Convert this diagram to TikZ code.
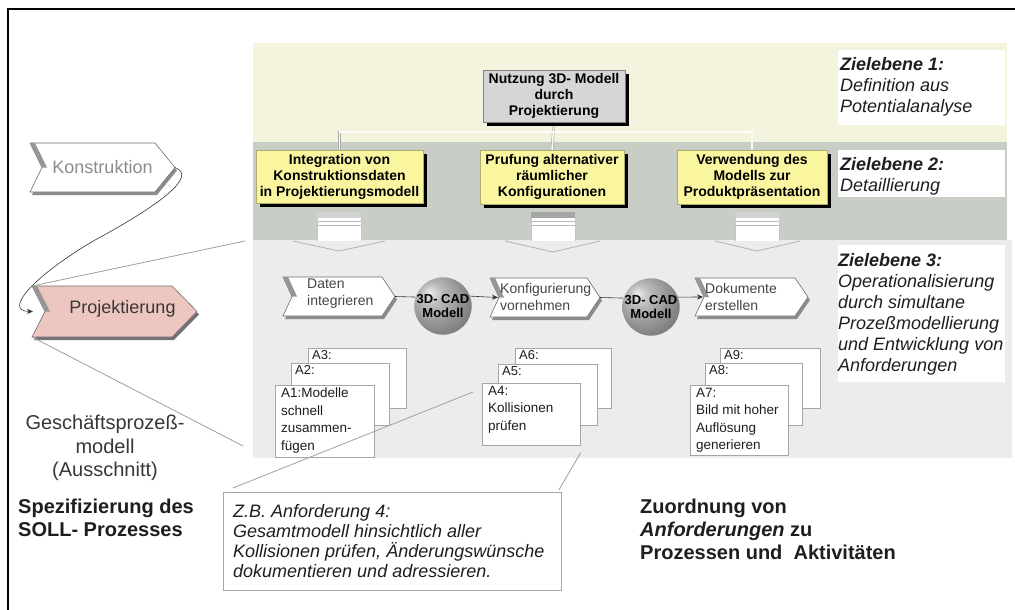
\documentclass[tikz,border=0pt]{standalone}
\usepackage{fontspec}
\setmainfont{Liberation Sans}
\usetikzlibrary{calc,shadows,arrows.meta}
\pgfdeclarelayer{back}
\pgfdeclarelayer{mid}
\pgfsetlayers{back,mid,main}
\definecolor{bandA}{RGB}{244,243,222}
\definecolor{bandB}{RGB}{200,205,197}
\definecolor{bandC}{RGB}{236,236,236}
\definecolor{yfill}{RGB}{250,246,160}
\definecolor{topgray}{RGB}{214,214,214}
\definecolor{pinkfill}{RGB}{238,198,192}
\definecolor{zcol}{RGB}{30,30,30}
\definecolor{leftcol}{RGB}{55,55,55}
\definecolor{kongray}{RGB}{140,140,140}
\definecolor{ptxt}{RGB}{70,70,70}
\definecolor{chevline}{RGB}{110,110,110}
\definecolor{stripegray}{RGB}{150,150,150}
\definecolor{shadegray}{RGB}{140,140,140}
\definecolor{darkshade}{RGB}{115,115,115}
\definecolor{sphA}{RGB}{235,235,235}
\definecolor{sphB}{RGB}{185,185,185}
\definecolor{sphC}{RGB}{150,150,150}
\definecolor{sphD}{RGB}{120,120,120}
\definecolor{sphE}{RGB}{95,95,95}
\pgfdeclareradialshading{sphshade}{\pgfpoint{-12bp}{12bp}}{%
  color(0bp)=(sphA); color(10bp)=(sphB); color(22bp)=(sphC); color(34bp)=(sphD); color(60bp)=(sphE)}
\newcommand{\fsz}[2]{\fontsize{#1}{#2}\selectfont}
% chevron outline around a named node: #1 node, #2 notch, #3 point, #4 fill, #5 shadow
\newcommand{\chevron}[5]{%
  \begin{pgfonlayer}{mid}
    \fill[#5] ($(#1.north west)+(2,3)$) -- ($(#1.north east)+(-#3+2,3)$) -- ($(#1.east)+(2,3)$)
      -- ($(#1.south east)+(-#3+2,3)$) -- ($(#1.south west)+(2,3)$) -- ($(#1.west)+(#2+2,3)$) -- cycle;
    \filldraw[fill=#4, draw=chevline, line width=0.6] (#1.north west) -- ($(#1.north east)+(-#3,0)$)
      -- (#1.east) -- ($(#1.south east)+(-#3,0)$) -- (#1.south west) -- ($(#1.west)+(#2,0)$) -- cycle;
    \fill[stripegray] (#1.north west) -- ($(#1.north west)+(5,0)$) -- ($(#1.west)+(#2+5,0)$)
      -- ($(#1.west)+(#2,0)$) -- cycle;
  \end{pgfonlayer}}
% document stack icon: #1 centre x, #2 stripe colour, #3 wing left x, #4 wing right x, #5 tip y
\newcommand{\stackicon}[5]{%
  \fill[white] (#1-22,212) rectangle (#1+22,241);
  \fill[#2] (#1-22,212) rectangle (#1+22,218);
  \draw[gray!55, line width=0.6] (#1-22,221.5) -- (#1+22,221.5) (#1-22,225.5) -- (#1+22,225.5);
  \draw[gray!45, line width=0.5] (#1-22,218) -- (#1-22,241) (#1+22,218) -- (#1+22,241);
  \draw[gray!60, line width=0.8] (#3,241) -- (#1,#5) -- (#4,241);}
\begin{document}
\begin{tikzpicture}[x=1pt,y=-1pt,
  ybox/.style={fill=yfill, draw=yfill!70!black, line width=0.3, font=\fsz{14}{16}\bfseries,
    align=center, inner sep=1,
    drop shadow={shadow xshift=4pt, shadow yshift=-4pt, fill=black, opacity=1}},
  topbox/.style={ybox, fill=topgray, draw=gray},
  ztext/.style={anchor=north west, align=left, inner sep=0, font=\fsz{18}{21}\itshape, text=zcol},
  chevbox/.style={inner sep=0, outer sep=0},
  ptext/.style={anchor=west, align=left, inner sep=0, font=\fsz{14}{17}, text=ptxt},
  ctext/.style={anchor=center, inner sep=0, font=\fsz{18}{20}},
  sphere/.style={circle, inner sep=0, shading=sphshade,
    font=\fsz{13}{14}\bfseries, align=center},
  card/.style={fill=white, draw=gray!70, line width=0.7, anchor=north west, inner sep=0},
  clabel/.style={anchor=north west, inner xsep=4, inner ysep=2, font=\fsz{13}{14}, text=zcol},
  cbody/.style={anchor=north west, align=left, inner xsep=6, inner ysep=3, font=\fsz{13.5}{17.5}, text=zcol},
  conn/.style={draw=black!80, line width=0.6},
  arr/.style={conn, -{Stealth[length=6pt,width=5pt]}},
  zoomline/.style={draw=gray!75, line width=0.8},
  tree/.style={draw=gray!65, line width=0.6, double=white!70!bandA, double distance=1.5pt},
  callbox/.style={draw=gray!70, line width=0.8, fill=white, inner sep=0}]
\useasboundingbox (0,0) rectangle (1015,610);
\begin{pgfonlayer}{back}
  \fill[white] (0,0) rectangle (1015,610);
  \fill[bandA] (253,43) rectangle (1007,142);
  \fill[bandB] (253,142) rectangle (1007,240);
  \fill[bandC] (253,240) rectangle (1012,458);
  \fill[white] (838,50) rectangle (1005,125);
  \fill[white] (838,150) rectangle (1005,197);
  \fill[white] (838,245) rectangle (1005,382);
\end{pgfonlayer}
\coordinate (b3nw) at (253,240);
\coordinate (b3sw) at (253,458);
% frame
\draw[line width=1.5] (8,610) -- (8,9) -- (1015,9);

% Zielebene texts
\node[ztext] (z1) at (840,57) {\textbf{Zielebene 1:}\\Definition aus\\Potentialanalyse};
\node[ztext] (z2) at (840,157) {\textbf{Zielebene 2:}\\Detaillierung};
\node[ztext] (z3) at (838,253) {\textbf{Zielebene 3:}\\Operationalisierung\\durch simultane\\Prozeßmodellierung\\und Entwicklung von\\Anforderungen};

% goal tree
\node[topbox, minimum width=142, minimum height=52] (top) at (554,96) {Nutzung 3D- Modell\\durch\\Projektierung};
\node[ybox, minimum width=167, minimum height=53] (y1) at (339.5,176.5) {Integration von\\Konstruktionsdaten\\in Projektierungsmodell};
\node[ybox, minimum width=144, minimum height=54] (y2) at (552,177) {Prufung alternativer\\räumlicher\\Konfigurationen};
\node[ybox, minimum width=150, minimum height=54] (y3) at (752,177) {Verwendung des\\Modells zur\\Produktpräsentation};
\begin{pgfonlayer}{mid}
  \draw[tree] (top.south) -- (y2.north);
  \draw[tree] (y1.north) -- ++(0,-18) -| (y3.north);
\end{pgfonlayer}

% stack icons
\stackicon{339}{gray!35}{293}{385}{251}
\stackicon{553}{gray!70}{505}{600}{252}
\stackicon{757}{gray!35}{715}{800}{251}

% process chain
\node[chevbox, minimum width=112, minimum height=39,
  label={[ptext, xshift=24, yshift=3]west:{Daten\\integrieren}}] (dat) at (339,296.5) {};
\node[chevbox, minimum width=110, minimum height=39,
  label={[ptext, xshift=10, yshift=1]west:{Konfigurierung\\vornehmen}}] (konf) at (545,297.5) {};
\node[chevbox, minimum width=113, minimum height=38,
  label={[ptext, xshift=10, yshift=0.5]west:{Dokumente\\erstellen}}] (dok) at (751.5,297) {};
\chevron{dat}{9}{13}{white}{shadegray}
\chevron{konf}{9}{13}{white}{shadegray}
\chevron{dok}{9}{13}{white}{shadegray}
\node[sphere, minimum size=56] (s1) at (443,306) {3D- CAD\\Modell};
\node[sphere, minimum size=54] (s2) at (651,307) {3D- CAD\\Modell};
\draw[conn] (dat.east) -- (s1.162);
\draw[arr] (s1.20) -- ($(konf.west)+(8,0)$);
\draw[conn] (konf.east) -- (s2.162);
\draw[arr] (s2.20) -- ($(dok.west)+(8,0)$);

% requirement cards
\node[card, minimum width=98, minimum height=60, label={[clabel]north west:{A3:}}] (a3) at (308,348) {};
\node[card, minimum width=98, minimum height=62, label={[clabel]north west:{A2:}}] (a2) at (291,363) {};
\node[card, minimum width=99, minimum height=72, label={[cbody]north west:{A1:Modelle\\schnell\\zusammen-\\fügen}}] (a1) at (275,385) {};
\node[card, minimum width=96, minimum height=60, label={[clabel]north west:{A6:}}] (a6) at (515,348) {};
\node[card, minimum width=99, minimum height=61, label={[clabel]north west:{A5:}}] (a5) at (498,364) {};
\node[card, minimum width=98, minimum height=62, label={[cbody]north west:{A4:\\Kollisionen\\prüfen}}] (a4) at (482,383) {};
\node[card, minimum width=100, minimum height=60, label={[clabel]north west:{A9:}}] (a9) at (720,348) {};
\node[card, minimum width=97, minimum height=62, label={[clabel]north west:{A8:}}] (a8) at (705,363) {};
\node[card, minimum width=98, minimum height=70, label={[cbody]north west:{A7:\\Bild mit hoher\\Auflösung\\generieren}}] (a7) at (690,385) {};

% left process excerpt
\node[chevbox, minimum width=145, minimum height=49,
  label={[ctext, text=kongray]center:Konstruktion}] (kon) at (102.5,167.5) {};
\node[chevbox, minimum width=165, minimum height=51,
  label={[ctext, text=leftcol, xshift=8, yshift=3]center:Projektierung}] (proj) at (114.5,311.5) {};
\chevron{kon}{12}{20}{white}{shadegray}
\chevron{proj}{13}{25}{pinkfill}{darkshade}
\draw[arr] (kon.east) .. controls (198,176) and (160,205) .. (95,240)
  .. controls (35,275) and (2,311) .. ($(proj.west)+(1,0)$);
\draw[zoomline] (proj.north west) -- ($(b3nw)+(-8,1)$);
\draw[zoomline] (proj.south west) -- ($(b3sw)+(-10,-12)$);

\node[font=\fsz{20}{23.5}, align=center, text=leftcol, inner sep=0] (gpm) at (105,448) {Geschäftsprozeß-\\modell\\(Ausschnitt)};
\node[anchor=north west, inner sep=0, align=left, font=\fsz{20}{23}\bfseries, text=zcol] (spez) at (18,498.5) {Spezifizierung des\\SOLL- Prozesses};

% callout
\node[callbox, minimum width=338, minimum height=98, anchor=north west] (call) at (223,492) {};
\node[anchor=north west, inner sep=0, align=left, font=\fsz{18}{20}\itshape, text=zcol] (callt) at (233,504)
  {Z.B. Anforderung 4:\\Gesamtmodell hinsichtlich aller\\Kollisionen prüfen, Änderungswünsche\\dokumentieren und adressieren.};
\draw[zoomline] ($(call.north west)+(10,-4)$) -- ($(a4.north west)+(-9,9)$);
\draw[zoomline] ($(call.north east)+(-3,-2)$) -- ($(a4.south east)+(0,7)$);

\node[anchor=north west, inner sep=0, align=left, font=\fsz{20}{23}\bfseries, text=zcol] (zuo) at (640,498.5)
  {Zuordnung von\\\textit{Anforderungen} zu\\Prozessen und\ \ Aktivitäten};
\end{tikzpicture}
\end{document}
